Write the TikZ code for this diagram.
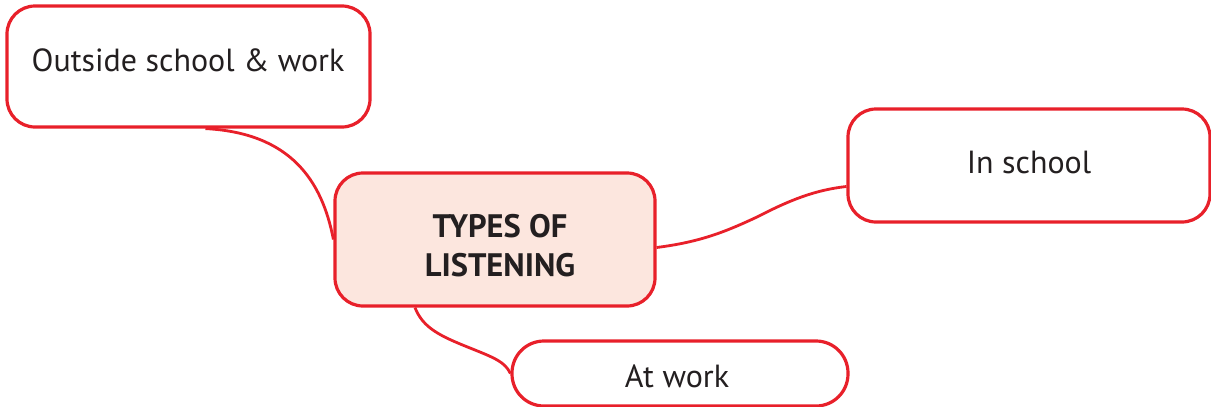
\documentclass[tikz,border=0pt]{standalone}
\usepackage{fontspec}
\setmainfont{PT Sans}
\definecolor{boxred}{HTML}{E8202A}
\definecolor{boxfill}{HTML}{FCE6DE}
\definecolor{txt}{HTML}{231F20}
\begin{document}
\begin{tikzpicture}[x=1pt,y=-1pt,
  box/.style={draw=boxred, line width=3.2pt, rounded corners=28pt, fill=white, inner sep=0pt},
  link/.style={draw=boxred, line width=2.8pt},
  lbl/.style={text=txt, font=\fontsize{32}{36}\selectfont, inner sep=0pt},
  hub/.style={text=txt, font=\fontsize{32.5}{39}\selectfont\bfseries, align=center, inner sep=0pt}]
\useasboundingbox (0,0) rectangle (1211,407);
% boxes
\node[box, minimum width=363pt, minimum height=121pt] (out) at (188.5,66.5) {};
\node[box, fill=boxfill, minimum width=320pt, minimum height=133pt] (cen) at (495,239.5) {};
\node[box, minimum width=362pt, minimum height=113pt] (ins) at (1029,165.5) {};
\node[box, rounded corners=32pt, minimum width=336pt, minimum height=65pt] (aw) at (680,373.5) {};
% texts
\node[lbl] (tout) at (188,60) {Outside school \& work};
\node[hub] (tcen) at (500,246) {TYPES OF\\LISTENING};
\node[lbl] (tins) at (1029,162) {In school};
\node[lbl] (taw) at (677,376) {At work};
% connectors
\draw[link] ([xshift=17pt]out.south) .. controls (290,133) and (322,180) .. (cen.west);
\draw[link] ([yshift=-8pt]cen.east) .. controls (700,242) and (725,232) .. (757,217)
  .. controls (790,200) and (815,190) .. ([yshift=-21pt]ins.west);
\draw[link] ([xshift=-80pt]cen.south) .. controls (423,328) and (440,336) .. (470,348)
  .. controls (495,358) and (505,362) .. (aw.west);
\end{tikzpicture}
\end{document}
